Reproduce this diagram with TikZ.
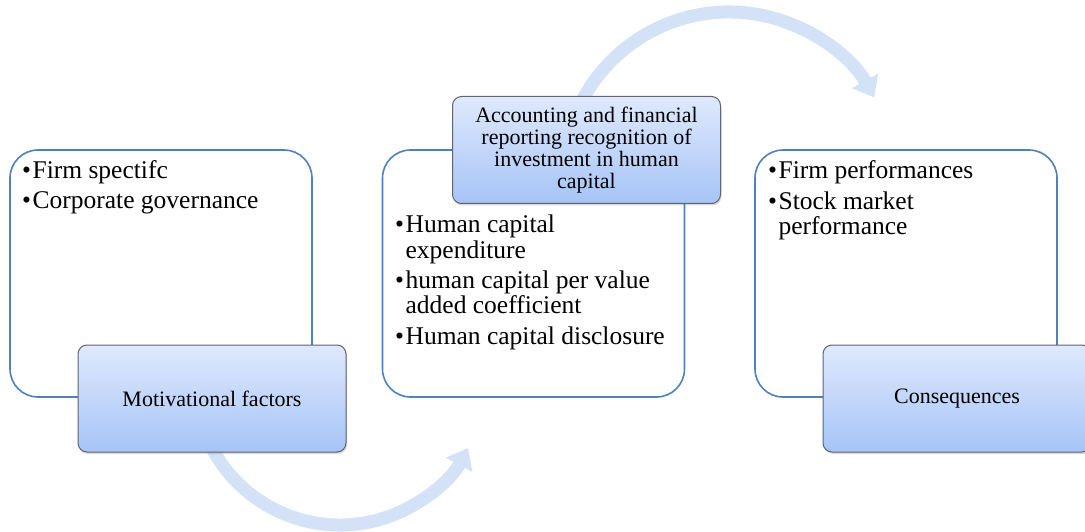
\documentclass[tikz,border=0pt]{standalone}
\usepackage{fontspec}
\setmainfont{Liberation Serif}
\usetikzlibrary{positioning,arrows.meta,shadows}
\definecolor{boxline}{RGB}{79,129,189}
\definecolor{labtop}{RGB}{223,233,252}
\definecolor{labbot}{RGB}{166,196,247}
\definecolor{labline}{RGB}{95,100,110}
\definecolor{flowc}{RGB}{212,226,248}
\newcommand{\itemfont}{\fontsize{25.5}{24.5}\selectfont}
\tikzset{%
    stage/.style={
      rectangle,
      draw=boxline,
      line width=1.6pt,
      fill=white,
      rounded corners=28pt,
      minimum width=302pt,
      minimum height=247pt
    },
    stage label/.style={
      rectangle,
      rounded corners=9pt,
      draw=labline,
      line width=1pt,
      top color=labtop,
      bottom color=labbot,
      minimum width=268pt,
      minimum height=107pt,
      align=center,
      font=\fontsize{22}{21.8}\selectfont,
      drop shadow={opacity=0.3, shadow xshift=1pt, shadow yshift=-2pt, rounded corners=9pt}
    },
    items/.style={
      inner sep=0pt,
      anchor=base west
    },
    flow/.style={
      draw=flowc,
      line width=13pt,
      -{Triangle[width=29pt, length=19pt]}
    }
  }

\begin{document}
\begin{tikzpicture}[x=1pt, y=1pt]
      \useasboundingbox (0,0) rectangle (1085,531);

      \node [stage] (mfbox) at (161,257.5) {};
      \node [stage] (acbox) at (533.5,257.5) {};
      \node [stage] (cqbox) at (906,257.5) {};

      \node [items] (mfitems) at (22,352) {\itemfont
        \begin{tabular}[t]{@{}l@{\hspace{1.5pt}}l@{}}
          \textbullet & Firm spectifc\\[5.5pt]
          \textbullet & Corporate governance
        \end{tabular}};
      \node [items] (acitems) at (395,298) {\itemfont
        \begin{tabular}[t]{@{}l@{\hspace{1.5pt}}l@{}}
          \textbullet & Human capital\\
                      & expenditure\\[5.5pt]
          \textbullet & human capital per value\\
                      & added coefficient\\[5.5pt]
          \textbullet & Human capital disclosure
        \end{tabular}};
      \node [items] (cqitems) at (768,352) {\itemfont
        \begin{tabular}[t]{@{}l@{\hspace{1.5pt}}l@{}}
          \textbullet & Firm performances\\[5.5pt]
          \textbullet & Stock market\\
                      & performance
        \end{tabular}};

      \coordinate (lowc) at (340,151);
      \coordinate (upc) at (729,353);

      \draw [flow] ([shift={(200:145)}]lowc) arc [start angle=200, end angle=332, radius=145];
      \draw [flow] ([shift={(165:166)}]upc) arc [start angle=165, end angle=29, radius=166];

      \node [stage label] (mf) at (212,132.5) {Motivational factors};
      \node [stage label] (ac) at (586.5,381) {Accounting and financial\\reporting recognition of\\investment in human\\capital};
      \node [stage label] (cq) at (957,132.5) {Consequences};
\end{tikzpicture}
\end{document}
